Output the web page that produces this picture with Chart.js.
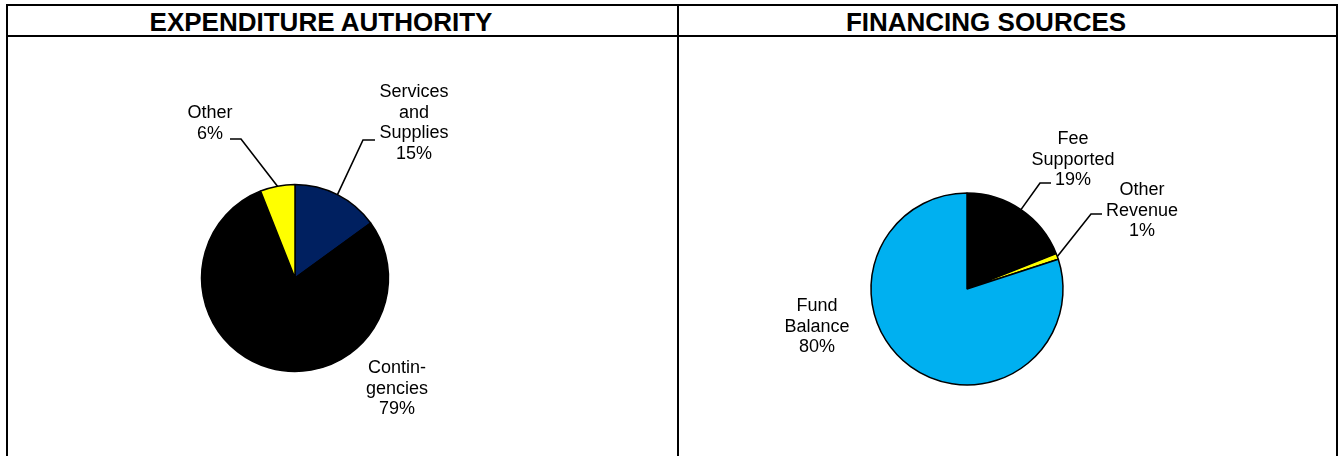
<!DOCTYPE html>
<html>
<head>
<meta charset="utf-8">
<script src="https://cdn.jsdelivr.net/npm/chart.js@4"></script>
<style>
  body { margin: 0; background: #fff; width: 1340px; height: 456px; overflow: hidden; position: relative; font-family: "Liberation Sans", Arial, sans-serif; }
  .line { position: absolute; background: #000; }
  .hdr { position: absolute; top: 9px; width: 600px; text-align: center; font-weight: bold; font-size: 26px; line-height: 26px; color: #000; white-space: nowrap; }
  canvas { position: absolute; top: 0; }
</style>
</head>
<body>
<div class="line" style="left:6px; top:4px; width:1332px; height:2px;"></div>
<div class="line" style="left:6px; top:35px; width:1332px; height:2px;"></div>
<div class="line" style="left:6px; top:4px; width:2px; height:460px;"></div>
<div class="line" style="left:677px; top:4px; width:2px; height:460px;"></div>
<div class="line" style="left:1336px; top:4px; width:2px; height:460px;"></div>
<div class="hdr" style="left:21px;">EXPENDITURE AUTHORITY</div>
<div class="hdr" style="left:686px;">FINANCING SOURCES</div>
<canvas id="expChart" width="678" height="456" style="left:0px;"></canvas>
<canvas id="finChart" width="661" height="456" style="left:679px;"></canvas>
<script>
const expCategories = ['Services and Supplies', 'Contingencies', 'Other'];
const expValues = [15, 79, 6];
const expColors = ['#002060', '#000000', '#FFFF00'];
const expLabelLines = [['Services', 'and', 'Supplies'], ['Contin-', 'gencies'], ['Other']];

const finCategories = ['Fee Supported', 'Other Revenue', 'Fund Balance'];
const finValues = [19, 1, 80];
const finColors = ['#000000', '#FFFF00', '#00B0F0'];
const finLabelLines = [['Fee', 'Supported'], ['Other', 'Revenue'], ['Fund', 'Balance']];

// label placement (page coords): text centre x, first baseline y, optional leader elbow
const expLabelPos = [
  { x: 414, y: 97, elbow: [363, 140, 375] },
  { x: 397, y: 373 },
  { x: 210, y: 118, elbow: [241, 139, 230] }
];
const finLabelPos = [
  { x: 1073, y: 144, elbow: [1040, 183, 1051] },
  { x: 1142, y: 195, elbow: [1091, 214, 1102] },
  { x: 817, y: 311 }
];

const pieLabels = {
  id: 'pieLabels',
  afterDraw(chart, args, opts) {
    const ctx = chart.ctx;
    const meta = chart.getDatasetMeta(0);
    const values = chart.data.datasets[0].data;
    const total = values.reduce((a, b) => a + b, 0);
    ctx.save();
    ctx.font = '18px "Liberation Sans", Arial, sans-serif';
    ctx.fillStyle = '#000';
    ctx.textAlign = 'center';
    ctx.textBaseline = 'alphabetic';
    meta.data.forEach((arc, i) => {
      const p = opts.positions[i];
      const lines = opts.lines[i].concat([Math.round(values[i] / total * 100) + '%']);
      lines.forEach((t, j) => {
        ctx.fillText(t, p.x - opts.offsetX, p.y + j * 20.7);
      });
      if (p.elbow) {
        const { x, y, startAngle, endAngle, outerRadius } = arc.getProps(['x', 'y', 'startAngle', 'endAngle', 'outerRadius'], true);
        const mid = (startAngle + endAngle) / 2;
        ctx.beginPath();
        ctx.strokeStyle = '#000';
        ctx.lineWidth = 1.6;
        ctx.moveTo(x + Math.cos(mid) * outerRadius, y + Math.sin(mid) * outerRadius);
        ctx.lineTo(p.elbow[0] - opts.offsetX, p.elbow[1]);
        ctx.lineTo(p.elbow[2] - opts.offsetX, p.elbow[1]);
        ctx.stroke();
      }
    });
    ctx.restore();
  }
};

function padFor(cx, cy, r, w, h) {
  const s = r + 0.75;
  return { left: cx - s, right: w - cx - s, top: cy - s, bottom: h - cy - s };
}

function makePie(id, labels, values, colors, lines, positions, offsetX, cx, cy, r) {
  const canvas = document.getElementById(id);
  new Chart(canvas.getContext('2d'), {
    type: 'pie',
    data: {
      labels: labels,
      datasets: [{
        data: values,
        backgroundColor: colors,
        borderColor: '#000000',
        borderWidth: 1.5
      }]
    },
    options: {
      responsive: false,
      animation: false,
      layout: { padding: padFor(cx - offsetX, cy, r, canvas.width, canvas.height) },
      plugins: {
        legend: { display: false },
        tooltip: { enabled: false },
        pieLabels: { lines: lines, positions: positions, offsetX: offsetX }
      }
    },
    plugins: [pieLabels]
  });
}

makePie('expChart', expCategories, expValues, expColors, expLabelLines, expLabelPos, 0, 295, 278, 93.5);
makePie('finChart', finCategories, finValues, finColors, finLabelLines, finLabelPos, 679, 967, 289, 96);
</script>
</body>
</html>
